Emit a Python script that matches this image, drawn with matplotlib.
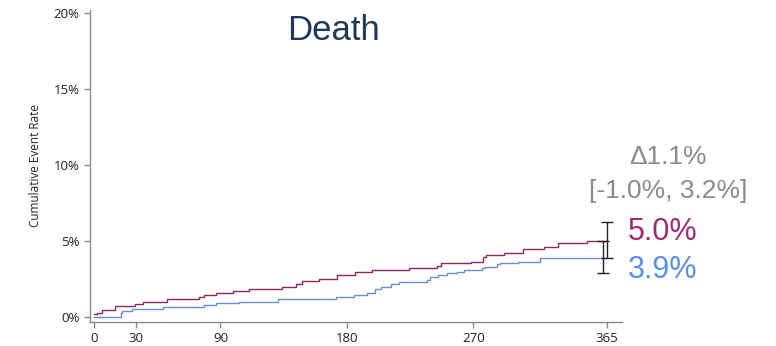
import matplotlib.pyplot as plt
from matplotlib.ticker import FuncFormatter

# Kaplan-Meier style step data (days, cumulative event rate in %)
red_days = [0, 2, 6, 15, 29, 35, 52, 75, 78, 87, 99, 110, 134, 144, 148, 160, 173,
            186, 198, 224, 244, 247, 268, 277, 279, 292, 305, 320, 330, 351, 365]
red_rate = [0.18, 0.24, 0.46, 0.72, 0.85, 1.0, 1.16, 1.3, 1.43, 1.56, 1.69, 1.82, 2.0, 2.2,
            2.37, 2.48, 2.76, 2.94, 3.07, 3.2, 3.36, 3.53, 3.64, 3.97, 4.08, 4.23, 4.45,
            4.63, 4.89, 5.0, 5.0]

blue_days = [0, 19, 20, 27, 49, 78, 87, 103, 131, 172, 185, 194, 200, 204, 211, 217,
             237, 239, 245, 251, 258, 263, 276, 278, 287, 289, 302, 317, 363]
blue_rate = [0.02, 0.24, 0.41, 0.5, 0.64, 0.77, 0.9, 1.0, 1.18, 1.34, 1.45, 1.6, 1.82, 2.0,
             2.17, 2.28, 2.43, 2.61, 2.76, 2.87, 2.98, 3.09, 3.2, 3.31, 3.47, 3.57, 3.64,
             3.85, 3.85]

# 1-year estimates with 95% CI
red_end = (365, 5.0, 3.85, 6.25)
blue_end = (362.5, 3.85, 2.87, 5.0)

x_ticks = [0, 30, 90, 180, 270, 365]
y_ticks = [0, 5, 10, 15, 20]

red_c = '#8c2a5c'
blue_c = '#6b8fd0'
grey = '#8a8a8a'

fig = plt.figure(figsize=(7.76, 3.46), dpi=100)
ax = fig.add_axes([0.1157, 0.0694, 0.6864, 0.9017])

ax.step(red_days, red_rate, where='post', color=red_c, lw=1.0)
ax.step(blue_days, blue_rate, where='post', color=blue_c, lw=1.0)

for d, mid, lo, hi in [red_end, blue_end]:
    ax.errorbar([d], [mid], yerr=[[mid - lo], [hi - mid]], fmt='none',
                ecolor='#222222', elinewidth=1.0, capsize=4.5, capthick=1.0)

ax.set_xlim(-3, 376)
ax.set_ylim(-0.33, 20.2)
ax.set_xticks(x_ticks)
ax.set_yticks(y_ticks)
ax.yaxis.set_major_formatter(FuncFormatter(lambda v, p: '%d%%' % v))

for s in ['top', 'right']:
    ax.spines[s].set_visible(False)
for s in ['left', 'bottom']:
    ax.spines[s].set_color(grey)
    ax.spines[s].set_linewidth(1.0)
ax.tick_params(axis='both', colors=grey, length=4, width=1.0, labelsize=9.5,
               labelcolor='#222222')
for lab in ax.get_xticklabels() + ax.get_yticklabels():
    lab.set_family('Open Sans')

ax.set_ylabel('Cumulative Event Rate', fontsize=8.5, family='Open Sans', color='#222222',
              labelpad=8)

fig.text(333 / 776, 1 - 31 / 346, 'Death', fontsize=25, color='#1e3a55',
         family='Liberation Sans', ha='center', va='center')
fig.text(668 / 776, 1 - 157 / 346, 'Δ1.1%', fontsize=19, color=grey,
         family='Liberation Sans', ha='center', va='center')
fig.text(668 / 776, 1 - 191 / 346, '[-1.0%, 3.2%]', fontsize=19, color=grey,
         family='Liberation Sans', ha='center', va='center')
fig.text(628 / 776, 1 - 232 / 346, '5.0%', fontsize=22, color='#9b2b72',
         family='Liberation Sans', ha='left', va='center')
fig.text(628 / 776, 1 - 270 / 346, '3.9%', fontsize=22, color='#5a8de8',
         family='Liberation Sans', ha='left', va='center')

plt.savefig('out.png', dpi=100)
